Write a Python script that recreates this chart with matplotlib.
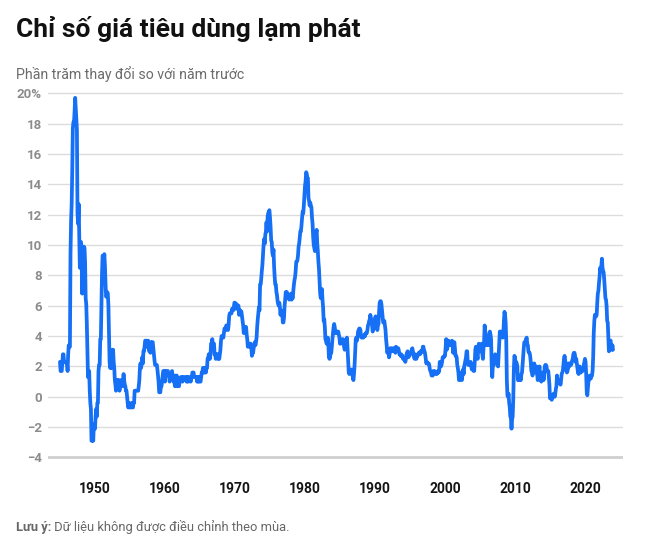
import matplotlib.pyplot as plt
import numpy as np
import pandas as pd

plt.rcParams["font.family"] = ["Roboto", "DejaVu Sans"]

# 12-month % change in CPI, monthly, Jan 1945 onwards
cpi_1940s = [
    2.3, 1.7, 1.7, 1.7, 2.3, 2.8, 2.8, 2.3, 2.3, 2.3, 2.3, 2.2,
    2.2, 1.7, 2.8, 3.4, 3.3, 3.3, 9.4, 11.6, 12.7, 14.9, 17.7, 18.1,
    18.1, 18.8, 19.7, 19.0, 18.4, 17.6, 12.1, 11.4, 12.7, 10.6, 8.5, 8.8,
    10.2, 9.3, 6.8, 8.7, 9.1, 9.9, 9.8, 8.9, 6.5, 6.1, 4.8, 3.0,
    1.3, 1.3, 1.7, 0.4, -0.4, -0.8, -2.9, -2.9, -2.4, -2.9, -1.8, -2.1,
]
cpi_1950s = [
    -2.1, -1.3, -0.8, -1.3, -0.4, -0.4, 1.7, 2.1, 2.1, 3.8, 3.8, 5.9,
    8.1, 9.3, 9.3, 9.0, 9.4, 8.7, 7.5, 6.6, 6.6, 6.9, 6.8, 6.0,
    4.3, 2.3, 1.9, 2.3, 1.9, 2.3, 3.1, 3.1, 2.3, 1.9, 1.1, 0.8,
    0.4, 0.8, 1.1, 0.8, 1.1, 1.1, 0.4, 0.8, 0.8, 1.1, 0.8, 0.7,
    1.1, 1.5, 1.1, 0.8, 0.7, 0.4, 0.4, 0.0, -0.4, -0.7, -0.4, -0.7,
    -0.7, -0.7, -0.7, -0.4, -0.7, -0.7, -0.4, -0.4, 0.4, 0.4, 0.4, 0.4,
    0.4, 0.4, 0.4, 0.7, 1.1, 1.9, 2.2, 1.9, 2.2, 2.6, 2.2, 3.0,
    3.0, 3.3, 3.7, 3.7, 3.7, 3.3, 3.3, 3.7, 3.3, 3.0, 3.3, 2.9,
    3.6, 3.2, 3.6, 3.6, 3.2, 2.8, 2.4, 2.1, 2.1, 2.1, 2.1, 1.8,
    1.4, 1.0, 0.3, 0.3, 0.3, 0.7, 0.7, 1.0, 1.4, 1.7, 1.7, 1.7,
]
cpi_1960s = [
    1.0, 1.7, 1.7, 1.7, 1.7, 1.7, 1.4, 1.4, 1.0, 1.4, 1.4, 1.4,
    1.7, 1.4, 1.4, 1.0, 1.0, 0.7, 1.4, 1.0, 1.4, 0.7, 0.7, 0.7,
    0.7, 1.0, 1.0, 1.3, 1.3, 1.3, 1.0, 1.3, 1.3, 1.3, 1.3, 1.3,
    1.3, 1.0, 1.3, 1.0, 1.0, 1.3, 1.3, 1.3, 1.0, 1.3, 1.3, 1.6,
    1.6, 1.6, 1.3, 1.3, 1.3, 1.3, 1.3, 1.0, 1.3, 1.0, 1.3, 1.0,
    1.0, 1.0, 1.3, 1.6, 1.6, 1.9, 1.6, 1.9, 1.6, 1.9, 1.6, 1.9,
    1.9, 2.5, 2.5, 2.8, 2.8, 2.5, 2.8, 3.5, 3.5, 3.8, 3.5, 3.5,
    3.5, 2.8, 2.8, 2.5, 2.8, 2.8, 2.8, 2.5, 2.8, 2.5, 2.8, 3.1,
    3.7, 4.0, 4.0, 3.9, 3.9, 4.2, 4.5, 4.5, 4.4, 4.7, 4.7, 4.7,
    4.4, 4.7, 5.3, 5.5, 5.5, 5.5, 5.5, 5.8, 5.7, 5.7, 5.9, 6.2,
]
cpi_1970s = [
    6.2, 6.1, 5.8, 6.1, 6.0, 6.0, 6.0, 5.4, 5.6, 5.7, 5.6, 5.6,
    5.3, 5.0, 4.7, 4.2, 4.4, 4.6, 4.4, 4.6, 4.1, 3.8, 3.3, 3.3,
    3.3, 3.5, 3.5, 3.5, 3.2, 2.7, 2.9, 2.9, 3.2, 3.4, 3.6, 3.4,
    3.6, 3.9, 4.6, 5.1, 5.5, 5.9, 5.7, 7.4, 7.4, 7.8, 8.3, 8.7,
    9.4, 10.0, 10.4, 10.1, 10.7, 10.9, 11.5, 10.9, 11.9, 12.1, 12.2, 12.3,
    11.8, 11.2, 10.3, 10.2, 9.5, 9.3, 9.7, 8.6, 7.9, 7.4, 7.4, 6.9,
    6.7, 6.3, 6.1, 6.0, 6.2, 5.9, 5.4, 5.7, 5.5, 5.5, 4.9, 4.9,
    5.2, 6.0, 6.4, 6.9, 6.7, 6.9, 6.7, 6.6, 6.6, 6.4, 6.7, 6.7,
    6.8, 6.4, 6.6, 6.5, 7.0, 7.4, 7.7, 7.9, 8.3, 8.9, 8.9, 9.0,
    9.3, 9.9, 10.1, 10.5, 10.9, 10.9, 11.3, 11.8, 12.2, 12.1, 12.6, 13.3,
]
cpi_1980s = [
    13.9, 14.2, 14.8, 14.7, 14.4, 14.4, 13.1, 12.9, 12.6, 12.8, 12.6, 12.5,
    11.8, 11.4, 10.5, 10.0, 9.8, 9.6, 10.8, 10.8, 11.0, 10.1, 9.6, 8.9,
    8.4, 7.6, 6.8, 6.5, 6.7, 7.1, 6.4, 5.9, 5.0, 5.1, 4.6, 3.8,
    3.7, 3.5, 3.6, 3.9, 3.5, 2.6, 2.5, 2.6, 2.9, 2.9, 3.3, 3.8,
    4.2, 4.6, 4.8, 4.6, 4.2, 4.2, 4.2, 4.3, 4.3, 4.3, 4.1, 3.9,
    3.5, 3.5, 3.7, 3.7, 3.8, 3.8, 3.6, 3.3, 3.1, 3.2, 3.5, 3.8,
    3.9, 3.1, 2.2, 1.6, 1.5, 1.8, 1.6, 1.6, 1.8, 1.5, 1.3, 1.1,
    1.5, 2.1, 3.0, 3.8, 3.9, 3.7, 3.9, 4.3, 4.4, 4.5, 4.5, 4.4,
    4.0, 3.9, 3.9, 3.9, 3.9, 4.0, 4.1, 4.0, 4.2, 4.2, 4.2, 4.4,
    4.7, 4.8, 5.0, 5.1, 5.4, 5.2, 5.0, 4.7, 4.3, 4.5, 4.7, 4.6,
]
cpi_1990s = [
    5.2, 5.3, 5.2, 4.7, 4.4, 4.7, 4.8, 5.6, 6.2, 6.3, 6.3, 6.1,
    5.7, 5.3, 4.9, 4.9, 5.0, 4.7, 4.4, 3.8, 3.4, 2.9, 3.0, 3.1,
    2.6, 2.8, 3.2, 3.2, 3.0, 3.1, 3.2, 3.1, 3.0, 3.2, 3.0, 2.9,
    3.3, 3.2, 3.1, 3.2, 3.2, 3.0, 2.8, 2.8, 2.7, 2.8, 2.7, 2.7,
    2.5, 2.5, 2.5, 2.4, 2.3, 2.5, 2.8, 2.9, 3.0, 2.6, 2.7, 2.7,
    2.8, 2.9, 2.9, 3.1, 3.2, 3.0, 2.8, 2.6, 2.5, 2.8, 2.6, 2.5,
    2.7, 2.7, 2.8, 2.9, 2.9, 2.8, 3.0, 2.9, 3.0, 3.0, 3.3, 3.3,
    3.0, 3.0, 2.8, 2.5, 2.2, 2.3, 2.2, 2.2, 2.2, 2.1, 1.8, 1.7,
    1.6, 1.4, 1.4, 1.4, 1.7, 1.7, 1.7, 1.6, 1.5, 1.5, 1.5, 1.6,
    1.7, 1.6, 1.7, 2.3, 2.1, 2.0, 2.1, 2.3, 2.6, 2.6, 2.6, 2.7,
]
cpi_2000s = [
    2.7, 3.2, 3.8, 3.1, 3.2, 3.7, 3.7, 3.4, 3.5, 3.4, 3.4, 3.4,
    3.7, 3.5, 2.9, 3.3, 3.6, 3.2, 2.7, 2.7, 2.6, 2.1, 1.9, 1.6,
    1.1, 1.1, 1.5, 1.6, 1.2, 1.1, 1.5, 1.8, 1.5, 2.0, 2.2, 2.4,
    2.6, 3.0, 3.0, 2.2, 2.1, 2.1, 2.1, 2.2, 2.3, 2.0, 1.8, 1.9,
    1.9, 1.7, 1.7, 2.3, 3.1, 3.3, 3.0, 2.7, 2.5, 3.2, 3.5, 3.3,
    3.0, 3.0, 3.1, 3.5, 2.8, 2.5, 3.2, 3.6, 4.7, 4.3, 3.5, 3.4,
    4.0, 3.6, 3.4, 3.5, 4.2, 4.3, 4.1, 3.8, 2.1, 1.3, 2.0, 2.5,
    2.1, 2.4, 2.8, 2.6, 2.7, 2.7, 2.4, 2.0, 2.8, 3.5, 4.3, 4.1,
    4.3, 4.0, 4.0, 3.9, 4.2, 5.0, 5.6, 5.4, 4.9, 3.7, 1.1, 0.1,
    0.0, 0.2, -0.4, -0.7, -1.3, -1.4, -2.1, -1.5, -1.3, -0.2, 1.8, 2.7,
]
cpi_2010s = [
    2.6, 2.1, 2.3, 2.2, 2.0, 1.1, 1.2, 1.1, 1.1, 1.2, 1.1, 1.5,
    1.6, 2.1, 2.7, 3.2, 3.6, 3.6, 3.6, 3.8, 3.9, 3.5, 3.4, 3.0,
    2.9, 2.9, 2.7, 2.3, 1.7, 1.7, 1.4, 1.7, 2.0, 2.2, 1.8, 1.7,
    1.6, 2.0, 1.5, 1.1, 1.4, 1.8, 2.0, 1.5, 1.2, 1.0, 1.2, 1.5,
    1.6, 1.1, 1.5, 2.0, 2.1, 2.1, 2.0, 1.7, 1.7, 1.7, 1.3, 0.8,
    -0.1, 0.0, -0.1, -0.2, 0.0, 0.1, 0.2, 0.2, 0.0, 0.2, 0.5, 0.7,
    1.4, 1.0, 0.9, 1.1, 1.0, 1.0, 0.8, 1.1, 1.5, 1.6, 1.7, 2.1,
    2.5, 2.7, 2.4, 2.2, 1.9, 1.6, 1.7, 1.9, 2.2, 2.0, 2.2, 2.1,
    2.1, 2.2, 2.4, 2.5, 2.8, 2.9, 2.9, 2.7, 2.3, 2.5, 2.2, 1.9,
    1.6, 1.5, 1.9, 2.0, 1.8, 1.6, 1.8, 1.7, 1.7, 1.8, 2.1, 2.3,
]
cpi_2020s = [
    2.5, 2.3, 1.5, 0.3, 0.1, 0.6, 1.0, 1.3, 1.4, 1.2, 1.2, 1.4,
    1.4, 1.7, 2.6, 4.2, 5.0, 5.4, 5.4, 5.3, 5.4, 6.2, 6.8, 7.0,
    7.5, 7.9, 8.5, 8.3, 8.6, 9.1, 8.5, 8.3, 8.2, 7.7, 7.1, 6.5,
    6.4, 6.0, 5.0, 4.9, 4.0, 3.0, 3.2, 3.7, 3.7, 3.2, 3.1, 3.4,
    3.1,
]

x_ticks = [1950, 1960, 1970, 1980, 1990, 2000, 2010, 2020]
y_ticks = [-4, -2, 0, 2, 4, 6, 8, 10, 12, 14, 16, 18, 20]
y_labels = ["\u22124", "\u22122", "0", "2", "4", "6", "8", "10", "12",
            "14", "16", "18", "20%"]

title = "Chỉ số giá tiêu dùng lạm phát"
subtitle = "Phần trăm thay đổi so với năm trước"
note_bold = "Lưu ý:"
note_rest = " Dữ liệu không được điều chỉnh theo mùa."

values = np.array(cpi_1940s + cpi_1950s + cpi_1960s + cpi_1970s
                  + cpi_1980s + cpi_1990s + cpi_2000s + cpi_2010s + cpi_2020s)
months = np.arange(len(values))
years = 1945 + months / 12.0

W, H = 654, 545
fig = plt.figure(figsize=(W / 100, H / 100), dpi=100)

# axes placed in pixel terms: grid spans x 48..623, y ticks -4 at 457.5, 20 at 93.3
y0, y1 = -4.5, 20.5
ppu = (457.5 - 93.3) / 24
top_px = 93.3 - (y1 - 20) * ppu
bot_px = 457.5 + (-4 - y0) * ppu
ax = fig.add_axes([48 / W, 1 - bot_px / H, (623 - 48) / W, (bot_px - top_px) / H])

ax.plot(years, values, color="#1670f5", lw=2.7, solid_joinstyle="round",
        solid_capstyle="round", zorder=3)

ax.set_ylim(y0, y1)
ax.set_xlim(1950 - 47 / 7.0, 1950 + 528 / 7.0)
ax.set_yticks(y_ticks)
ax.set_yticklabels(y_labels)
ax.set_xticks(x_ticks)
ax.set_xticklabels([str(t) for t in x_ticks])

for s in ax.spines.values():
    s.set_visible(False)

ax.yaxis.grid(True, color="#dcdcdc", lw=1.0)
ax.set_axisbelow(True)
base = ax.get_ygridlines()[0]
base.set_color("#cfcfcf")
base.set_linewidth(2.0)

ax.tick_params(axis="y", length=0, pad=4.5, labelsize=9.5, labelcolor="#8c8c8c")
ax.tick_params(axis="x", length=0, pad=12, labelsize=10, labelcolor="#151515")
for lab in ax.get_yticklabels():
    lab.set_fontweight("bold")
for lab in ax.get_xticklabels():
    lab.set_fontweight("bold")

fig.text(16 / W, 1 - 29 / H, title, fontsize=19, fontweight="bold",
         color="#111111", va="center", ha="left")
fig.text(16 / W, 1 - 74 / H, subtitle, fontsize=10.2, color="#6b6b6b",
         va="center", ha="left")

t1 = fig.text(16 / W, 1 - 527 / H, note_bold, fontsize=9.3, fontweight="bold",
              color="#666666", va="center", ha="left")
renderer = fig.canvas.get_renderer()
bb = t1.get_window_extent(renderer)
fig.text(bb.x1 / W, 1 - 527 / H, note_rest, fontsize=9.3, color="#666666",
         va="center", ha="left")

fig.savefig("out.png", dpi=100, facecolor="white")
